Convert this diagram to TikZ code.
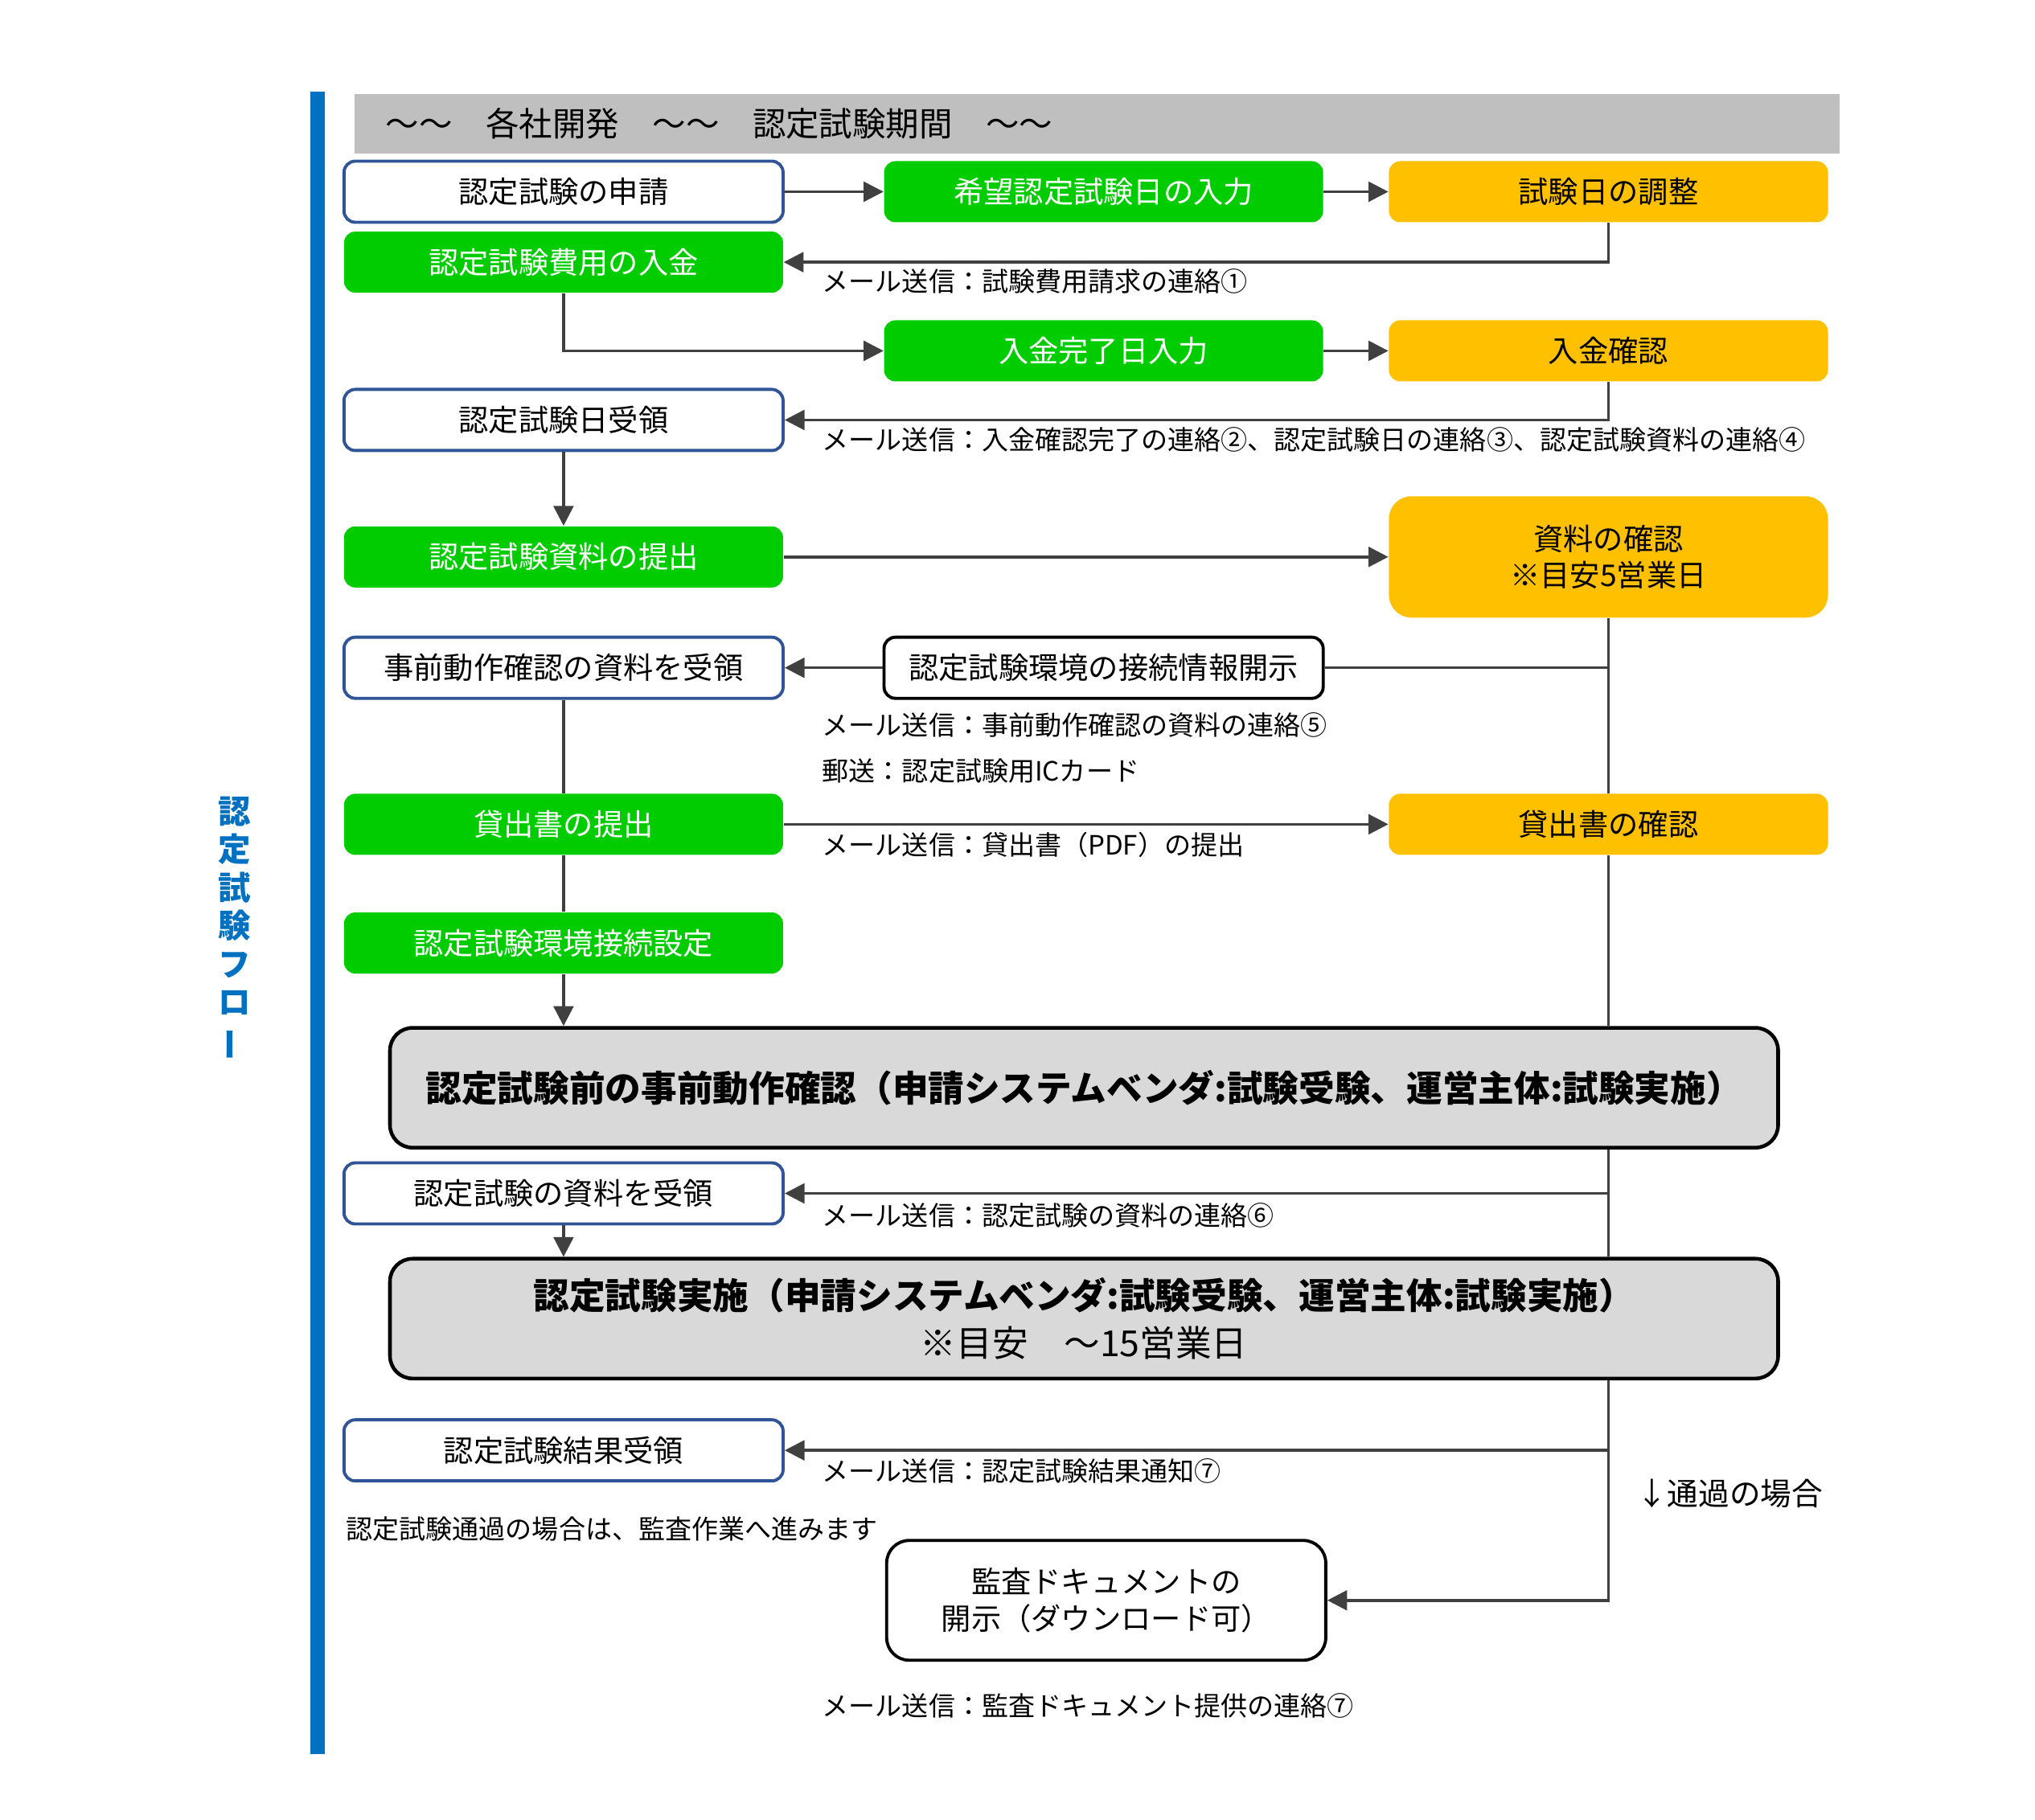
\documentclass[tikz,border=0pt]{standalone}
\usepackage{fontspec}
\setmainfont{Noto Sans CJK JP}
\usetikzlibrary{positioning,calc}
\usetikzlibrary{arrows.meta}
\definecolor{flowgreen}{HTML}{00CC00}
\definecolor{flowamber}{HTML}{FFC000}
\definecolor{flowblue}{HTML}{2F5597}
\definecolor{barblue}{HTML}{0070C0}
\definecolor{flowline}{HTML}{404040}
\begin{document}
\begin{tikzpicture}[x=0.016224cm,y=-0.016224cm,
         flowbox/.style = {rounded corners=4pt,minimum width=5.46cm,minimum height=0.76cm,
         inner sep=0pt,font=\fontsize{10.6pt}{13pt}\selectfont,align=center},
         applicant/.style = {flowbox,draw=flowblue,line width=1.1pt,fill=white},
         system/.style = {flowbox,fill=flowgreen,text=white},
         operator/.style = {flowbox,fill=flowamber},
         notice/.style = {flowbox,draw=black,line width=1.1pt,fill=white},
         stage/.style = {rounded corners=8pt,draw=black,line width=1.3pt,fill=black!15,
         minimum width=17.26cm,minimum height=1.49cm,align=center,
         font=\bfseries\fontsize{12.7pt}{17pt}\selectfont},
         mail/.style = {anchor=west,inner sep=0pt,font=\fontsize{9.4pt}{11pt}\selectfont},
         link/.style = {draw=flowline,line width=1pt},
         flow/.style = {link,-{Triangle[length=7pt,width=7pt]}}
]
   \useasboundingbox (0,0) rectangle (1560,1395.4);
   \fill[barblue] (238,70) rectangle (249,1345);
   \node[text=barblue,font=\bfseries\fontsize{11.5pt}{13.5pt}\selectfont,align=center]
      (flowtitle) at (180,712) {認\\定\\試\\験\\フ\\ロ\\\rotatebox[origin=c]{90}{ー}};
   \fill[black!25] (272,72) rectangle (1410,118);
   \node[anchor=west,font=\fontsize{11.8pt}{14pt}\selectfont] (period) at (288,95)
      {～～\quad 各社開発\quad ～～\quad 認定試験期間\quad ～～};

   % left column
   \node[applicant] (apply)   at (432,147)  {認定試験の申請};
   \node[system]    (pay)     at (432,201)  {認定試験費用の入金};
   \node[applicant] (date)    at (432,322)  {認定試験日受領};
   \node[system]    (submit)  at (432,427)  {認定試験資料の提出};
   \node[applicant] (pre)     at (432,512)  {事前動作確認の資料を受領};
   \node[system]    (loan)    at (432,632)  {貸出書の提出};
   \node[system]    (connect) at (432,723)  {認定試験環境接続設定};
   \node[applicant] (docs)    at (432,915)  {認定試験の資料を受領};
   \node[applicant] (result)  at (432,1112) {認定試験結果受領};

   % middle column
   \node[system] (wish)    at (846,147) {希望認定試験日の入力};
   \node[system] (paid)    at (846,269) {入金完了日入力};
   \node[notice] (info)    at (846,512) {認定試験環境の接続情報開示};
   \node[notice,minimum height=1.49cm,rounded corners=8pt] (audit) at (848,1227)
      {監査ドキュメントの\\開示（ダウンロード可）};

   % right column
   \node[operator] (adjust) at (1233,147) {試験日の調整};
   \node[operator] (check)  at (1233,269) {入金確認};
   \node[operator,minimum height=1.51cm,rounded corners=8pt] (review) at (1233,427)
      {資料の確認\\※目安5営業日};
   \node[operator] (loanok) at (1233,632) {貸出書の確認};

   % stages
   \node[stage] (trial) at (831,834)
      {認定試験前の事前動作確認（申請システムベンダ:試験受験、運営主体:試験実施）};
   \node[stage] (exam) at (831,1011)
      {認定試験実施（申請システムベンダ:試験受験、運営主体:試験実施）\\
      \mdseries ※目安　～15営業日};

   % connectors
   \draw[flow] (apply) -- (wish);
   \draw[flow] (wish) -- (adjust);
   \draw[flow] (adjust.south) |- (pay.east);
   \draw[flow] (pay.south) |- (paid.west);
   \draw[flow] (paid) -- (check);
   \draw[flow] (check.south) |- (date.east);
   \draw[flow] (date) -- (submit);
   \draw[flow] (submit) -- (review);
   \draw[link] (review.south) -- (loanok.north);
   \draw[link] (review.south |- info.east) -- (info.east);
   \draw[flow] (info) -- (pre);
   \draw[link] (pre) -- (loan);
   \draw[flow] (loan) -- (loanok);
   \draw[link] (loan) -- (connect);
   \draw[flow] (connect.south) -- (connect.south |- trial.north);
   \draw[link] (loanok.south) -- (loanok.south |- trial.north);
   \draw[link] (loanok.south |- trial.south) -- (loanok.south |- exam.north);
   \draw[flow] (loanok.south |- docs.east) -- (docs.east);
   \draw[flow] (docs.south) -- (docs.south |- exam.north);
   \draw[flow] (loanok.south |- exam.south) |- (audit.east);
   \draw[flow] (loanok.south |- result.east) -- (result.east);

   % labels
   \node[mail] (m1) at (630,216)  {メール送信：試験費用請求の連絡①};
   \node[mail] (m2) at (630,337)  {メール送信：入金確認完了の連絡②、認定試験日の連絡③、認定試験資料の連絡④};
   \node[mail] (m5) at (630,556)  {メール送信：事前動作確認の資料の連絡⑤};
   \node[mail] (ic) at (630,591)  {郵送：認定試験用ICカード};
   \node[mail] (pdf) at (630,648) {メール送信：貸出書（PDF）の提出};
   \node[mail] (m6) at (630,932)  {メール送信：認定試験の資料の連絡⑥};
   \node[mail] (m7) at (630,1128) {メール送信：認定試験結果通知⑦};
   \node[mail] (goal) at (265,1172) {認定試験通過の場合は、監査作業へ進みます};
   \node[mail] (m8) at (630,1308) {メール送信：監査ドキュメント提供の連絡⑦};
   \node[mail,font=\fontsize{11pt}{13pt}\selectfont] (pass) at (1254,1145) {↓通過の場合};
\end{tikzpicture}
\end{document}
